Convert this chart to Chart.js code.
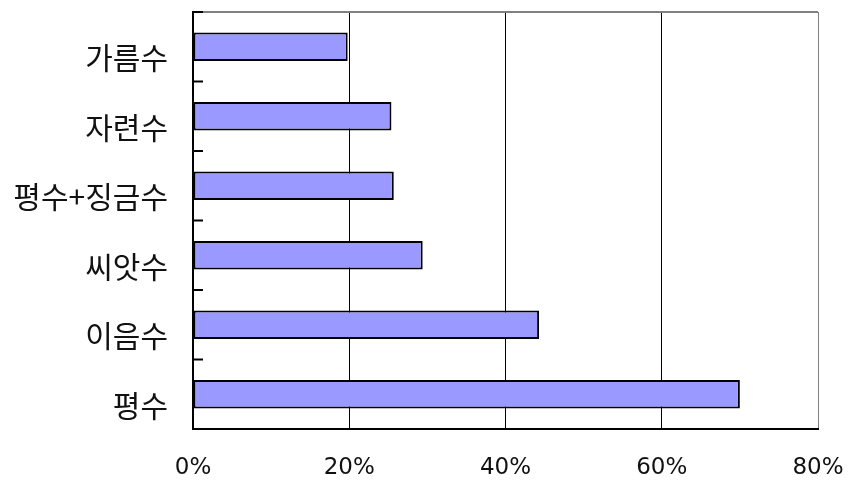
<!DOCTYPE html>
<html>
<head>
<meta charset="utf-8">
<script src="https://cdn.jsdelivr.net/npm/chart.js@4/dist/chart.umd.min.js"></script>
<style>
  html, body { margin: 0; padding: 0; background: #fff; }
  #wrap { width: 850px; height: 481px; }
</style>
</head>
<body>
<div id="wrap"><canvas id="chart"></canvas></div>
<script>
// 항목별 비율 (%)
const categories = ['가름수', '자련수', '평수+징금수', '씨앗수', '이음수', '평수'];
const shares = [19.8, 25.4, 25.7, 29.4, 44.3, 70.0];
const xTicks = [0, 20, 40, 60, 80];

// 카테고리 경계에 안쪽 눈금 + 위쪽 테두리
const frameTicks = {
  id: 'frameTicks',
  afterDraw(chart) {
    const { ctx, chartArea: a, scales: { y } } = chart;
    ctx.save();
    ctx.strokeStyle = '#808080';
    ctx.lineWidth = 2;
    ctx.beginPath();
    ctx.moveTo(a.left, a.top);
    ctx.lineTo(a.right, a.top);
    ctx.stroke();
    ctx.strokeStyle = '#000';
    ctx.lineWidth = 2;
    const n = categories.length;
    for (let i = 0; i <= n; i++) {
      let py;
      if (i === 0) py = a.top;
      else if (i === n) py = a.bottom;
      else py = (y.getPixelForValue(i - 1) + y.getPixelForValue(i)) / 2;
      ctx.beginPath();
      ctx.moveTo(a.left, py);
      ctx.lineTo(a.left + 10, py);
      ctx.stroke();
    }
    ctx.restore();
  }
};

new Chart(document.getElementById('chart'), {
  type: 'bar',
  data: {
    labels: categories,
    datasets: [{
      data: shares,
      backgroundColor: '#9999ff',
      borderColor: '#000',
      borderWidth: 2,
      borderSkipped: false,
      categoryPercentage: 1,
      barPercentage: 0.41
    }]
  },
  options: {
    indexAxis: 'y',
    responsive: true,
    maintainAspectRatio: false,
    animation: false,
    layout: { padding: { top: 12, right: 32, left: 0, bottom: 0 } },
    plugins: { legend: { display: false }, tooltip: { enabled: false } },
    scales: {
      x: {
        min: 0, max: 80,
        afterBuildTicks(s) { s.ticks = xTicks.map(v => ({ value: v })); },
        afterFit(s) { s.height = 52; s.paddingLeft = 0; s.paddingRight = 0; },
        grid: {
          drawTicks: false,
          lineWidth: 1,
          color: c => c.tick.value === 80 ? '#808080' : (c.tick.value === 0 ? 'rgba(0,0,0,0)' : '#000')
        },
        border: { color: '#000', width: 2 },
        ticks: {
          padding: 25,
          color: '#111',
          font: { family: 'DejaVu Sans', size: 23 },
          callback: v => v + '%'
        }
      },
      y: {
        afterFit(s) { s.width = 193; s.paddingTop = 0; s.paddingBottom = 0; },
        grid: { display: false, drawTicks: false },
        border: { color: '#000', width: 2 },
        ticks: {
          padding: 25,
          labelOffset: 11,
          color: '#111',
          font: { family: 'Noto Sans CJK KR', size: 30 }
        }
      }
    }
  },
  plugins: [frameTicks]
});
</script>
</body>
</html>
